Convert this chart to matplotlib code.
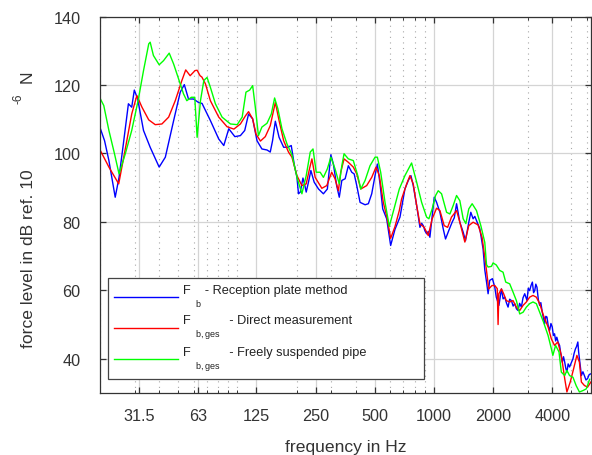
import matplotlib
matplotlib.use("Agg")
import matplotlib.pyplot as plt
from matplotlib.ticker import FixedLocator, LogLocator, NullFormatter

plt.rcParams['font.family'] = ['Liberation Sans', 'DejaVu Sans']
plt.rcParams['mathtext.fontset'] = 'custom'
plt.rcParams['mathtext.rm'] = 'Liberation Sans'

# reception plate method (blue)
f_blue = [20.1, 21.1, 22.2, 23.9, 25.0, 26.3, 27.9, 29.0, 29.9, 31.1, 33.3, 36.0, 40.0, 43.0,
          47.4, 51.2, 53.7, 56.4, 59.8, 63.4, 66.1, 72.9, 80.4, 85.3, 90.4, 97.1, 103.6, 109,
          114, 119.6, 125.9, 133.3, 141.5, 147, 151, 156, 163, 172, 181, 188, 195, 201, 204.6,
          209, 215.6, 219.6, 224, 230, 236.6, 245.9, 258.8, 274, 287, 299, 308, 320, 330, 340,
          353.5, 367, 382, 393, 405, 421, 446.5, 464, 482.6, 501.7, 515.6, 532, 549, 575, 602.5,
          633.7, 672, 712, 741, 764, 785, 817, 849, 866, 883, 900, 918, 936, 954, 980, 1004,
          1032, 1073, 1115, 1146, 1191, 1238, 1270, 1304, 1355, 1409, 1448, 1505, 1541, 1583,
          1615, 1647, 1712, 1779, 1815, 1852, 1887, 1923, 1985, 2041, 2077, 2142, 2206, 2250,
          2293, 2340, 2384, 2430, 2479, 2530, 2578, 2630, 2680, 2730, 2787, 2840, 2898, 2978,
          3020, 3071, 3120, 3170, 3215, 3258, 3300, 3345, 3400, 3453, 3500, 3560, 3610, 3660,
          3710, 3760, 3820, 3880, 3940, 4000, 4055, 4110, 4165, 4220, 4290, 4360, 4430, 4500,
          4565, 4630, 4690, 4750, 4820, 4900, 5000, 5100, 5170, 5250, 5320, 5400, 5450, 5500,
          5560, 5630, 5730, 5830, 5940, 6050, 6170, 6290]
db_blue = [107.2, 103.7, 97.9, 87.2, 93.0, 102.8, 114.5, 113.5, 118.5, 115.9, 106.7, 101.8, 96.0, 98.9,
           109.6, 117.9, 120.1, 115.9, 115.9, 114.9, 114.6, 109.6, 104.2, 102.3, 107.2, 104.9, 105.2, 106.7,
           111.5, 110.1, 103.7, 101.3, 101.0, 100.4, 103.7, 109.4, 104.7, 101.8, 101.8, 102.3, 96.5, 93.0, 88.2,
           88.7, 92.8, 91.1, 88.7, 91.6, 95.0, 91.6, 89.6, 88.2, 89.6, 99.6, 96.9, 90.6, 87.2, 92.1,
           92.6, 96.4, 94.5, 94.0, 90.6, 85.7, 85.0, 85.3, 88.2, 93.5, 96.9, 91.1, 83.8, 80.9, 73.1,
           77.8, 81.4, 89.6, 92.1, 93.5, 90.6, 84.8, 78.4, 79.6, 78.9, 77.4, 76.5, 77.2, 75.5, 81.8, 87.2,
           85.7, 82.8, 78.0, 75.0, 77.5, 79.9, 81.2, 85.3, 79.9, 77.0, 74.5, 79.9, 82.8, 80.9,
           81.6, 80.4, 78.0, 72.1, 66.0, 62.5, 59.0, 62.9, 63.4, 60.9, 58.0, 55.6, 60.4, 57.5,
           58.0, 56.3, 55.1, 57.4, 57.0, 55.4, 56.1, 54.6, 54.1, 56.2, 55.1, 57.8, 59.0, 57.0,
           60.6, 59.9, 61.4, 62.4, 59.3, 59.9, 61.8, 60.9, 57.2, 55.6, 56.4, 53.6, 51.8, 50.2,
           52.4, 52.2, 49.5, 48.3, 50.3, 49.3, 46.8, 47.3, 45.2, 46.3, 44.8, 43.9, 41.2, 39.0,
           40.6, 39.0, 37.2, 36.1, 38.5, 37.6, 38.8, 40.0, 41.6, 42.9, 43.6, 44.9, 42.0, 40.0,
           37.4, 35.1, 36.2, 35.1, 33.8, 34.2, 35.4, 35.6]

# direct measurement (red)
f_red = [20.1, 22.2, 24.9, 26.9, 29.0, 30.8, 32.7, 35.4, 38.2, 41.3, 44.7, 48.3, 52.2, 54.6,
         57.5, 60.9, 62.4, 64.6, 66, 68.8, 72.9, 80.4, 88.6, 96, 103.6, 110, 114, 119.6, 124.3,
         131, 138.7, 147, 156, 163, 172, 182, 189.5, 201, 213, 224, 232.8, 239.5, 248.8, 269,
         285, 302, 314, 326.6, 335.7, 349, 367, 389, 405, 424.5, 455, 482.6, 507.6, 527.7,
         552.8, 579, 602.5, 633.7, 666.7, 685, 727, 755, 785, 817, 849, 893, 936, 980, 1032,
         1073, 1128, 1174, 1229, 1304, 1355, 1437, 1505, 1583, 1678, 1758, 1830, 1901, 1975,
         2041, 2100, 2121, 2140, 2206, 2264, 2335, 2430, 2527, 2628, 2733, 2843, 2955, 3071,
         3193, 3320, 3453, 3612, 3810, 3960, 4110, 4270, 4450, 4630, 4750, 4940, 5140, 5340,
         5500, 5630, 5830, 6050, 6290]
db_red = [100.8, 96.0, 91.1, 101.3, 111.5, 116.9, 113.5, 109.8, 108.4, 108.6, 110.6, 115.4, 121.3, 124.4,
          122.7, 124.2, 124.3, 122.7, 122.3, 120.3, 115.4, 110.6, 107.8, 107.1, 108.6, 111.0, 112.2, 110.1, 105.7,
          103.6, 104.9, 108.1, 114.9, 109.6, 103.7, 100.4, 98.9, 93.5, 90.6, 91.1, 95.5, 98.4, 93.0, 89.8,
          90.6, 94.5, 92.6, 89.1, 94.5, 98.4, 97.4, 96.0, 94.0, 89.6, 90.6, 93.0, 96.0, 93.5,
          85.7, 80.9, 75.2, 78.6, 83.3, 86.7, 91.1, 93.5, 91.1, 84.8, 79.4, 78.4, 76.0, 80.9, 84.0,
          83.3, 78.9, 78.4, 81.4, 83.3, 79.9, 74.1, 78.9, 79.9, 79.1, 75.5, 68.2, 60.4, 61.4,
          61.4, 60.5, 50.0, 59.0, 60.4, 59.0, 57.0, 56.6, 57.0, 55.1, 54.1, 55.6, 56.6, 58.0,
          58.5, 58.0, 56.1, 52.6, 49.3, 45.8, 43.9, 44.9, 41.0, 34.2, 30.3, 33.2, 37.1, 41.0,
          39.0, 33.2, 32.2, 31.7, 33.2]

# freely suspended pipe (green)
f_green = [20.1, 20.9, 22.2, 23.7, 25.0, 26.9, 29.0, 31.25, 33.3, 35.4, 36.0, 37.4, 40, 42.1,
           45, 47.4, 50.2, 53.2, 55.3, 58.3, 60.7, 62.4, 64.9, 67.5, 70.1, 72.9, 77.3, 83.6,
           92.2, 99.8, 105.8, 110.6, 115.5, 119.6, 123.4, 128, 133.3, 141.5, 148.8, 154.7,
           160.8, 168.6, 178.7, 189.5, 202, 213, 224, 234.9, 242.6, 251.8, 263.8, 274, 287,
           299, 314, 330, 340, 349, 367, 389, 409.8, 424.5, 446.5, 473, 501.7, 515.6, 536, 564,
           593, 626.7, 666.7, 712, 770, 817, 866, 918, 943, 980, 1020, 1052, 1094, 1160, 1206,
           1254, 1304, 1355, 1409, 1454, 1505, 1565, 1647, 1733, 1815, 1852, 1887, 1963, 2000,
           2077, 2163, 2248, 2320, 2430, 2527, 2628, 2733, 2843, 2955, 3071, 3193, 3320, 3453,
           3612, 3810, 3960, 4030, 4160, 4330, 4450, 4630, 4750, 4900, 5100, 5300, 5500, 5730,
           5960, 6200]
db_green = [115.9, 114.0, 106.7, 99.9, 94.0, 99.9, 106.7, 115.4, 124.2, 132.0, 132.5, 128.6, 125.9, 127.1,
            129.3, 126.1, 121.8, 117.4, 115.4, 116.4, 116.4, 104.7, 115.4, 121.3, 122.2, 119.3, 114.5, 110.6,
            108.6, 108.4, 110.6, 117.9, 118.5, 119.8, 113.5, 105.2, 107.7, 108.8, 111.5, 116.2,
            113.0, 107.2, 102.8, 99.6, 92.6, 88.2, 93.5, 100.4, 101.3, 94.5, 94.5, 93.0, 95.5,
            98.9, 95.5, 91.1, 96.4, 99.9, 98.4, 97.9, 93.5, 89.6, 92.1, 96.4, 98.9, 98.9, 94.5, 85.7,
            78.7, 83.8, 89.6, 93.5, 97.2, 91.6, 85.7, 81.4, 80.9, 83.8, 87.7, 89.1, 88.2, 82.8, 82.3,
            84.8, 87.7, 86.2, 80.9, 79.5, 83.8, 85.3, 83.3, 78.9, 74.0, 67.5, 66.8, 67.0, 68.0,
            67.4, 65.8, 65.3, 62.4, 61.9, 59.5, 57.0, 53.1, 53.6, 55.1, 56.1, 56.6, 56.1, 53.6,
            50.7, 46.8, 42.9, 41.0, 43.9, 42.0, 36.1, 35.1, 36.6, 35.1, 34.6, 32.1, 30.3, 30.7,
            31.2, 34.0]

tick_freqs = [31.5, 63, 125, 250, 500, 1000, 2000, 4000]
tick_labels = ['31.5', '63', '125', '250', '500', '1000', '2000', '4000']
y_ticks = [40, 60, 80, 100, 120, 140]

fig = plt.figure(figsize=(5.92, 4.56), dpi=100)
ax = fig.add_axes([100 / 592, 62 / 456, 491 / 592, 376.5 / 456])

ax.plot(f_blue, db_blue, color='#0000ff', lw=1.0,
        label='F    - Reception plate method\n' + r'$\ \ \ {}_{\mathregular{b}}$')
ax.plot(f_red, db_red, color='#ff0000', lw=1.0,
        label='F           - Direct measurement\n' + r'$\ \ \ {}_{\mathregular{b,ges}}$')
ax.plot(f_green, db_green, color='#00ff00', lw=1.0,
        label='F           - Freely suspended pipe\n' + r'$\ \ \ {}_{\mathregular{b,ges}}$')

ax.set_xscale('log')
ax.set_xlim(20, 6300)
ax.set_ylim(30, 140)
ax.xaxis.set_major_locator(FixedLocator(tick_freqs))
ax.set_xticklabels(tick_labels)
ax.xaxis.set_minor_locator(LogLocator(base=10, subs=range(1, 10)))
ax.xaxis.set_minor_formatter(NullFormatter())
ax.set_yticks(y_ticks)

ax.grid(which='major', color='#d4d4d4', lw=0.9, ls='-')
ax.grid(which='minor', axis='x', color='#a8a8a8', lw=0.8, ls=(0, (1, 4)))
ax.set_axisbelow(True)

ax.tick_params(which='both', direction='in', top=True, right=True, colors='#333333',
               labelsize=11.7, labelcolor='#333333')
ax.tick_params(which='major', length=4, width=0.9)
ax.tick_params(which='minor', length=2.2, width=0.7)
ax.tick_params(axis='x', which='major', pad=10.5)
ax.tick_params(axis='y', which='major', pad=14)
for s in ax.spines.values():
    s.set_color('#333333')
    s.set_linewidth(0.9)

ax.set_xlabel('frequency in Hz', fontsize=12.6, color='#333333', labelpad=11.5)
ax.set_ylabel('force level in dB ref. 10', fontsize=12.6, color='#333333')
ax.yaxis.set_label_coords(-64 / 491, 0.36)
# exponent and unit of the y label sit apart, as in the original
fig.text(18.5 / 592, 1 - 98.5 / 456, '-6', rotation=90, fontsize=8.5, color='#333333',
         ha='center', va='center')
fig.text(27 / 592, 1 - 77 / 456, 'N', rotation=90, fontsize=12.6, color='#333333',
         ha='center', va='center')

leg = ax.legend(loc='lower left', bbox_to_anchor=(8 / 491, 14 / 376.5, 316 / 491, 0.25),
                mode='expand', fontsize=9.2, frameon=True, fancybox=False, framealpha=1,
                edgecolor='#444444', borderaxespad=0, handlelength=5.0, handletextpad=0.4,
                labelspacing=0.37, borderpad=0.5)
leg.get_frame().set_linewidth(0.9)
for t in leg.get_texts():
    t.set_linespacing(0.9)
    t.set_color('#222222')

fig.savefig('out.png', dpi=100)
